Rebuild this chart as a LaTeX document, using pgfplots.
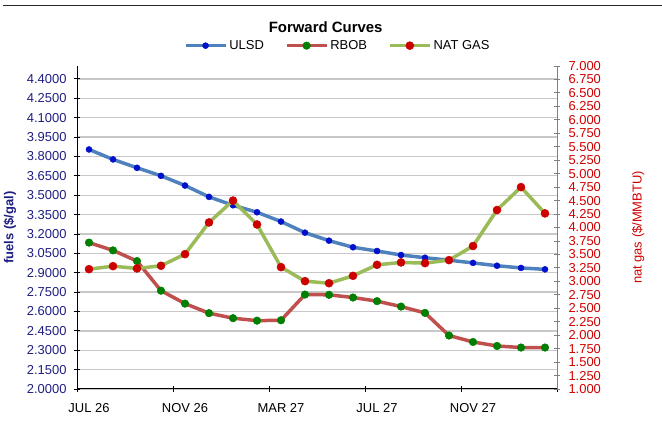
\documentclass[border=0pt]{standalone}
\usepackage{fontspec}
\setmainfont{Liberation Sans}
\usepackage{pgfplots}
\pgfplotsset{compat=1.18}
\definecolor{navy}{HTML}{1E1E82}
\definecolor{axred}{HTML}{D00000}
\definecolor{gridgray}{HTML}{C8C8C8}
\definecolor{ulsdline}{HTML}{4F81BD}
\definecolor{ulsdmark}{HTML}{0010CC}
\definecolor{rbobline}{HTML}{C0504D}
\definecolor{rbobmark}{HTML}{008000}
\definecolor{ngline}{HTML}{9BBB59}
\definecolor{ngmark}{HTML}{CC0000}
\pgfplotsset{
  ulsdstyle/.style={color=ulsdline, line width=3.5bp, mark=*, mark size=3bp, mark options={fill=ulsdmark, draw=ulsdmark, line width=0.5bp}},
  rbobstyle/.style={color=rbobline, line width=3.5bp, mark=*, mark size=3.8bp, mark options={fill=rbobmark, draw=rbobmark, line width=0.5bp}},
  ngstyle/.style={color=ngline, line width=3.5bp, mark=*, mark size=4bp, mark options={fill=ngmark, draw=ngmark, line width=0.5bp}},
}
\begin{document}
\begin{tikzpicture}
\useasboundingbox (0,0) rectangle (662bp,423bp);
\draw[line width=1.3bp, color=black!85] (3bp,417.5bp) -- (662bp,417.5bp);
\begin{axis}[
  at={(77bp,34bp)}, anchor=south west, scale only axis,
  width=480bp, height=323bp,
  xmin=0, xmax=20, ymin=2, ymax=4.5,
  axis x line*=bottom, axis y line*=left,
  axis line style={black, line width=1bp},
  xtick={0,4,8,12,16,20}, xticklabels={},
  extra x ticks={0.5,4.5,8.5,12.5,16.5},
  extra x tick labels={JUL 26,NOV 26,MAR 27,JUL 27,NOV 27},
  extra x tick style={major tick length=0pt, grid=none},
  xticklabel style={font=\fontsize{13}{13}\selectfont, black, yshift=-11bp},
  ytick={2.0,2.15,2.3,2.45,2.6,2.75,2.9,3.05,3.2,3.35,3.5,3.65,3.8,3.95,4.1,4.25,4.4},
  ymajorgrids, grid style={color=gridgray, line width=1.3bp},
  tick align=center, major tick length=6bp,
  tick style={black, line width=0.9bp},
  yticklabel style={font=\fontsize{13}{13}\selectfont, color=navy, xshift=-4bp, /pgf/number format/.cd, fixed, fixed zerofill, precision=4, assume math mode=true},
  ylabel={\bfseries fuels (\$/gal)},
  ylabel style={font=\fontsize{13}{13}\selectfont, color=navy, at={(axis description cs:-0.1396,0.5)}, anchor=center},
  every axis title shift=0pt,
  title={Forward Curves},
  title style={font=\fontsize{15}{15}\selectfont\bfseries, at={(axis description cs:0.518,1.119)}, anchor=center},
  clip=false,
]
\addplot[ulsdstyle] table {
x y
0.5 3.854
1.5 3.777
2.5 3.712
3.5 3.650
4.5 3.575
5.5 3.487
6.5 3.422
7.5 3.368
8.5 3.296
9.5 3.210
10.5 3.148
11.5 3.097
12.5 3.068
13.5 3.037
14.5 3.016
15.5 2.997
16.5 2.976
17.5 2.954
18.5 2.937
19.5 2.926
};
\addplot[rbobstyle] table {
x y
0.5 3.133
1.5 3.073
2.5 2.990
3.5 2.761
4.5 2.661
5.5 2.587
6.5 2.548
7.5 2.529
8.5 2.532
9.5 2.731
10.5 2.729
11.5 2.708
12.5 2.680
13.5 2.638
14.5 2.589
15.5 2.414
16.5 2.364
17.5 2.333
18.5 2.321
19.5 2.321
};
\end{axis}
\begin{axis}[
  at={(77bp,34bp)}, anchor=south west, scale only axis,
  width=480bp, height=323bp,
  xmin=0, xmax=20, ymin=1, ymax=7,
  axis x line=none, axis y line*=right,
  axis line style={color=black!50, line width=1bp},
  ytick={1,1.25,...,7},
  tick align=center, major tick length=6bp,
  tick style={black!50, line width=0.9bp},
  yticklabel style={font=\fontsize{13}{13}\selectfont, color=axred, xshift=5bp, /pgf/number format/.cd, fixed, fixed zerofill, precision=3, assume math mode=true},
  ylabel={nat gas (\$/MMBTU)},
  ylabel style={font=\fontsize{13}{13}\selectfont, color=axred, at={(axis description cs:1.169,0.5)}, anchor=center},
  legend columns=3,
  legend style={draw=none, fill=none, font=\fontsize{13}{13}\selectfont, at={(axis description cs:0.543,1.063)}, anchor=center,
    /tikz/every even column/.append style={column sep=19bp}},
  legend image code/.code={\draw[mark repeat=2, mark phase=2, #1] plot coordinates {(0bp,0bp) (20bp,0bp) (40bp,0bp)};},
  clip=false,
]
\addlegendimage{ulsdstyle}
\addlegendentry{ULSD}
\addlegendimage{rbobstyle}
\addlegendentry{RBOB}
\addplot[ngstyle] table {
x y
0.5 3.226
1.5 3.282
2.5 3.239
3.5 3.289
4.5 3.505
5.5 4.094
6.5 4.500
7.5 4.056
8.5 3.264
9.5 3.003
10.5 2.965
11.5 3.102
12.5 3.307
13.5 3.351
14.5 3.338
15.5 3.394
16.5 3.656
17.5 4.325
18.5 4.750
19.5 4.262
};
\addlegendentry{NAT GAS}
\end{axis}
\end{tikzpicture}
\end{document}
